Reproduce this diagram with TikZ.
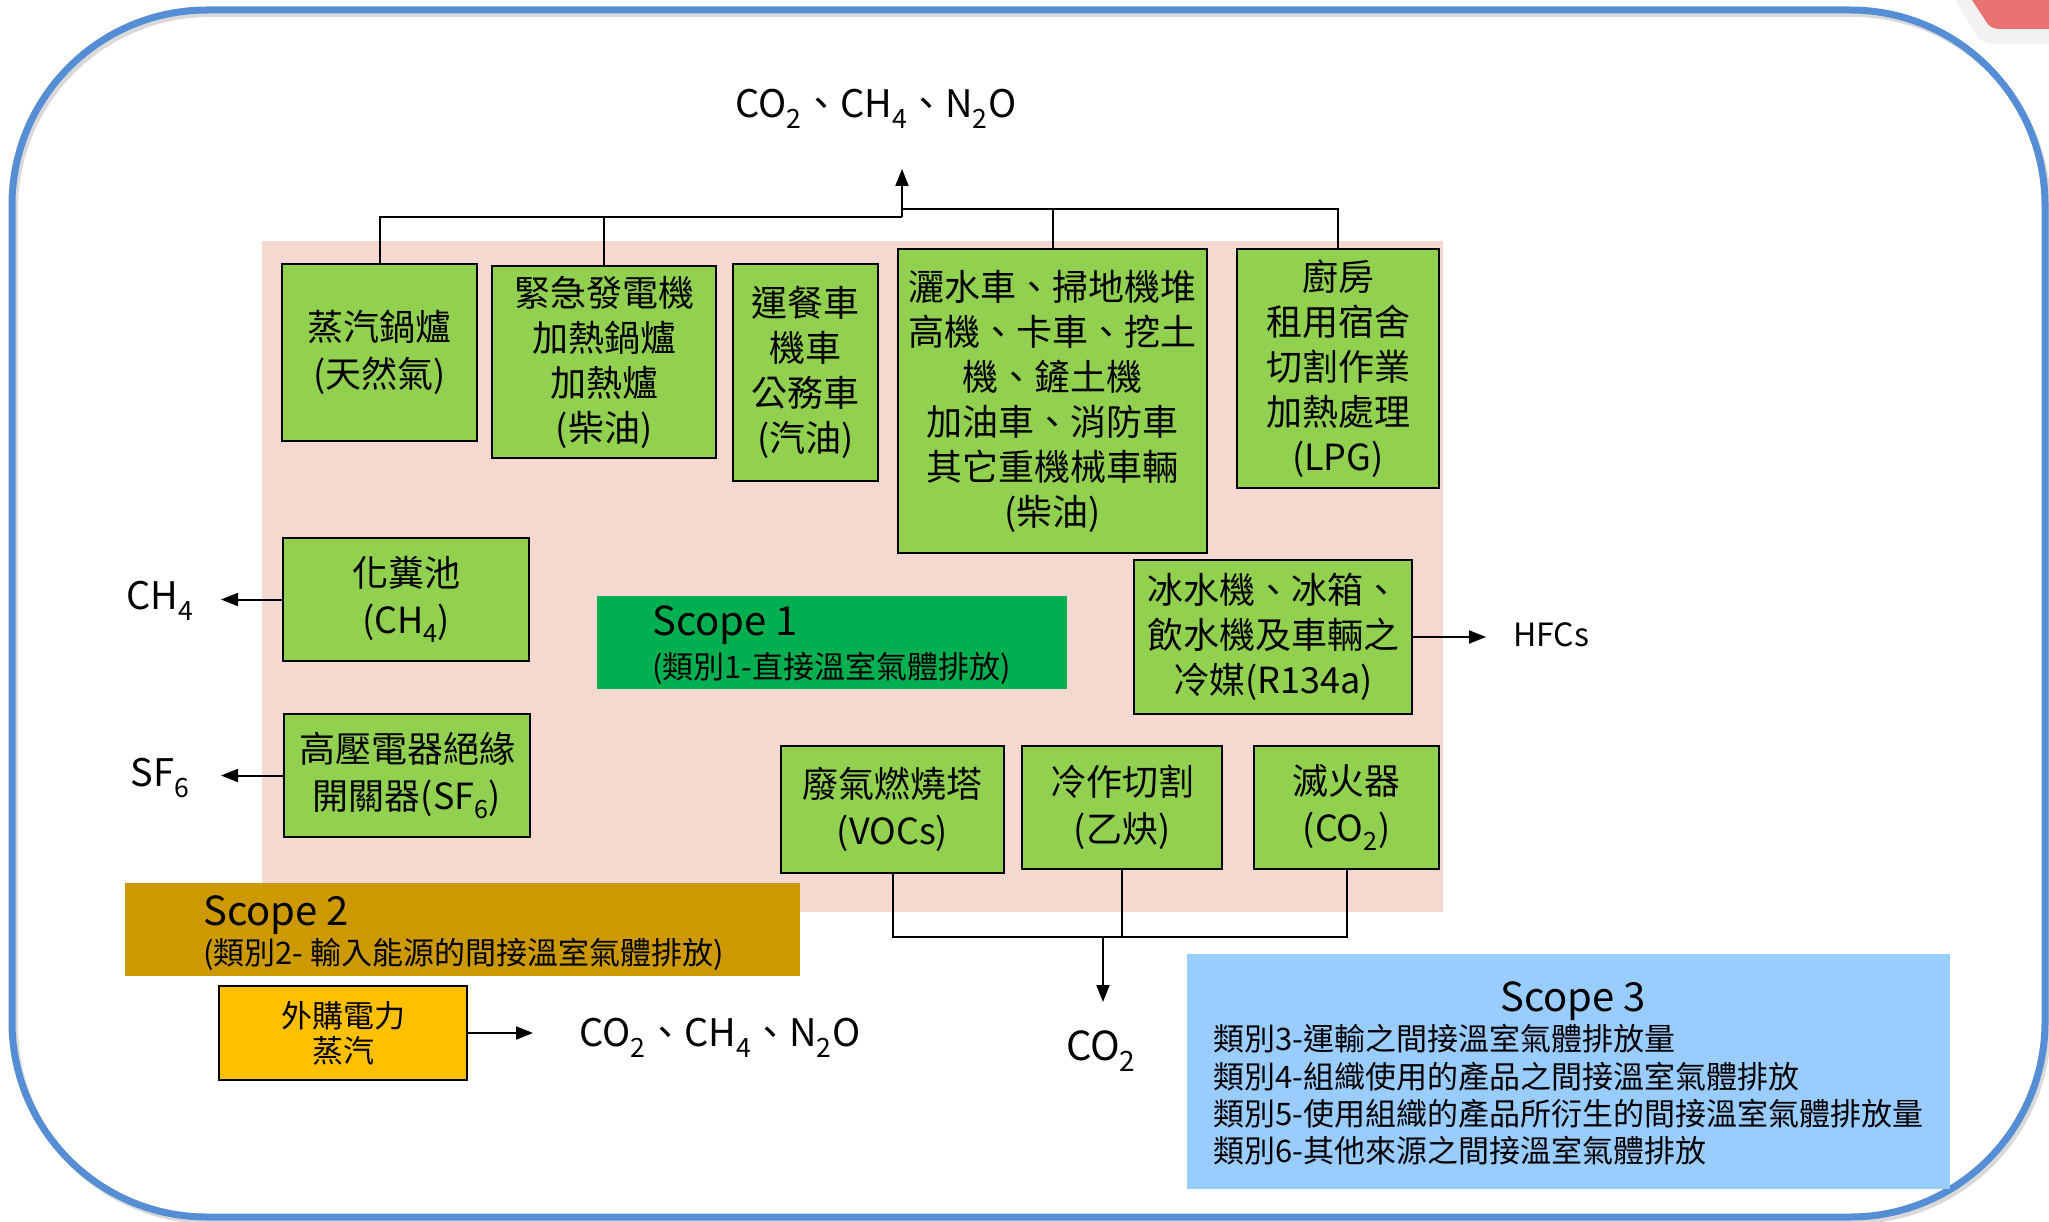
\documentclass[tikz,border=0pt]{standalone}
\usepackage{fontspec}
\setmainfont{Noto Sans CJK TC}
\usetikzlibrary{arrows.meta}
\definecolor{pinkbg}{HTML}{F5D8D0}
\definecolor{gfill}{HTML}{92D050}
\definecolor{sonegreen}{HTML}{00B050}
\definecolor{stwo}{HTML}{CC9900}
\definecolor{orangebox}{HTML}{FFC000}
\definecolor{sthree}{HTML}{99CCFF}
\definecolor{frameblue}{HTML}{558ED5}
\definecolor{tabred}{HTML}{E97171}
\newcommand\fz[2]{\fontsize{#1}{#2}\selectfont}
\begin{document}
\begin{tikzpicture}[x=1pt,y=-1pt]
\tikzset{
  gbox/.style={draw=black, line width=2.5pt, fill=gfill, align=center, inner sep=0pt, font=\fz{36}{45}},
  gboxb/.style={gbox, font=\fz{36}{47}},
  flatbox/.style={inner sep=0pt, draw=none},
  txt/.style={inner sep=0pt},
  conn/.style={line width=2pt, draw=black},
  arr/.style={line width=2pt, draw=black, -{Triangle[length=17pt,width=13pt]}}
}
\useasboundingbox (0,0) rectangle (2049,1222);
% top-right tab
\fill[black!5] (1955,0) -- (1977,36) .. controls (1981,41) and (1986,44) .. (1994,44) -- (2049,44) -- (2049,0) -- cycle;
\fill[tabred] (1972,0) -- (1987,23) .. controls (1990,27) and (1994,29) .. (2000,29) -- (2049,29) -- (2049,0) -- cycle;
% frame
\draw[black!15, line width=6pt, rounded corners=195pt] (15,14) rectangle (2048,1221);
\draw[frameblue, line width=7pt, rounded corners=195pt] (12,10) rectangle (2045,1217);
% pink background
\fill[pinkbg] (262,241) rectangle (1443,912);

% green boxes
\node[gboxb, minimum width=195pt, minimum height=177pt] (b1) at (379.5,352.5) {蒸汽鍋爐\\(天然氣)};
\node[gbox, minimum width=224pt, minimum height=192pt] (b2) at (604,362) {緊急發電機\\加熱鍋爐\\加熱爐\\(柴油)};
\node[gbox, minimum width=145pt, minimum height=217pt] (b3) at (805.5,372.5) {運餐車\\機車\\公務車\\(汽油)};
\node[gbox, minimum width=309pt, minimum height=304pt] (b4) at (1052.5,401) {灑水車、掃地機堆\\高機、卡車、挖土\\機、鏟土機\\加油車、消防車\\其它重機械車輛\\(柴油)};
\node[gbox, minimum width=202pt, minimum height=239pt] (b5) at (1338,368.5) {廚房\\租用宿舍\\切割作業\\加熱處理\\(LPG)};
\node[gboxb, minimum width=246pt, minimum height=123pt] (b6) at (406,599.5) {化糞池\\(CH\textsubscript{4})};
\node[gboxb, minimum width=246pt, minimum height=123pt] (b7) at (407,775.5) {高壓電器絕緣\\開關器(SF\textsubscript{6})};
\node[gbox, minimum width=278pt, minimum height=154pt] (b12) at (1273,637) {冰水機、冰箱、\\飲水機及車輛之\\冷媒(R134a)};
\node[gboxb, minimum width=223pt, minimum height=127pt] (b9) at (892.5,809.5) {廢氣燃燒塔\\(VOCs)};
\node[gboxb, minimum width=200pt, minimum height=123pt] (b10) at (1122,807.5) {冷作切割\\(乙炔)};
\node[gboxb, minimum width=185pt, minimum height=123pt] (b11) at (1346.5,807.5) {滅火器\\(CO\textsubscript{2})};

% Scope 1
\node[flatbox, fill=sonegreen, minimum width=470pt, minimum height=93pt] (s1) at (832,642.5) {};
\node[txt, anchor=west, font=\fz{40}{48}] (s1t) at (652,625) {Scope 1};
\node[txt, anchor=west, font=\fz{31}{37}] (s1s) at (652,668) {(類別1-直接溫室氣體排放)};

% Scope 2
\node[flatbox, fill=stwo, minimum width=675pt, minimum height=93pt] (s2) at (462.5,929.5) {};
\node[txt, anchor=west, font=\fz{40}{48}] (s2t) at (203,915) {Scope 2};
\node[txt, anchor=west, font=\fz{31}{37}] (s2s) at (203,954) {(類別2- 輸入能源的間接溫室氣體排放)};
\node[draw=black, line width=2.5pt, fill=orangebox, align=center, inner sep=0pt, font=\fz{31}{35}, minimum width=248pt, minimum height=94pt] (ext) at (343,1033) {外購電力\\蒸汽};

% Scope 3
\node[flatbox, fill=sthree, minimum width=763pt, minimum height=235pt] (s3) at (1568.5,1071.5) {};
\node[txt, font=\fz{40}{48}] (s3t) at (1573,1001) {Scope 3};
\node[txt, anchor=west, align=left, font=\fz{31}{37.3}] (s3l) at (1213,1095) {類別3-運輸之間接溫室氣體排放量\\類別4-組織使用的產品之間接溫室氣體排放\\類別5-使用組織的產品所衍生的間接溫室氣體排放量\\類別6-其他來源之間接溫室氣體排放};

% gas labels
\node[txt, font=\fz{38}{46}] (topl) at (876,109) {CO\textsubscript{2}、CH\textsubscript{4}、N\textsubscript{2}O};
\node[txt, font=\fz{38}{46}] (ch4l) at (160,601) {CH\textsubscript{4}};
\node[txt, font=\fz{38}{46}] (sf6l) at (160,778) {SF\textsubscript{6}};
\node[txt, font=\fz{32}{40}] (hfcl) at (1551,635) {HFCs};
\node[txt, font=\fz{38}{46}] (botl) at (720,1038) {CO\textsubscript{2}、CH\textsubscript{4}、N\textsubscript{2}O};
\node[txt, font=\fz{40}{48}] (co2l) at (1101,1051) {CO\textsubscript{2}};

% connectors top
\coordinate (jl) at (902,217);
\coordinate (jr) at (902,209);
\coordinate (ttip) at (902,169);
\draw[conn] (b1.north) |- (jl);
\draw[conn] (b2.north) |- (jl);
\draw[conn] (b4.north) |- (jr);
\draw[conn] (b5.north) |- (jr);
\draw[conn] (jl) -- (jr);
\draw[arr] (jr) -- (ttip);

% side arrows
\coordinate (ch4tip) at (221,599.5);
\coordinate (sf6tip) at (221,775.5);
\coordinate (hfctip) at (1486,637);
\coordinate (exttip) at (533,1033);
\draw[arr] (b6.west) -- (ch4tip);
\draw[arr] (b7.west) -- (sf6tip);
\draw[arr] (b12.east) -- (hfctip);
\draw[arr] (ext.east) -- (exttip);

% bottom connectors
\coordinate (jb) at (1103,937);
\coordinate (btip) at (1103,1002);
\draw[conn] (b9.south) |- (jb);
\draw[conn] (b11.south) |- (jb);
\draw[conn] (b10.south) -- (b10.south |- jb);
\draw[arr] (jb) -- (btip);
\end{tikzpicture}
\end{document}
